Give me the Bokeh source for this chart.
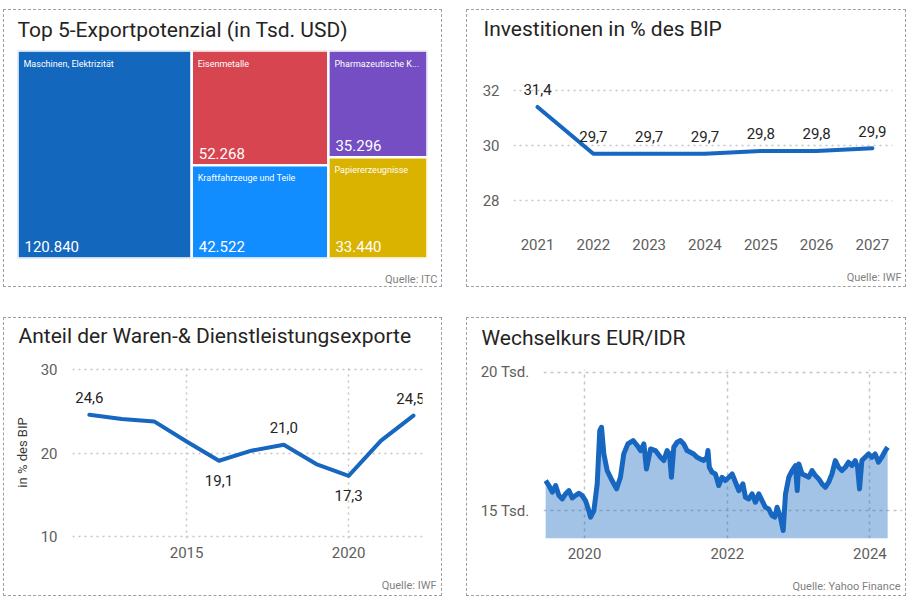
from datetime import datetime

from bokeh.plotting import figure
from bokeh.models import (Range1d, FixedTicker, ColumnDataSource, DatetimeTickFormatter, Title)
from bokeh.embed import file_html
from bokeh.resources import INLINE
from bokeh.core.properties import value

# ---------------- data ----------------
# Panel 1: treemap
tm_categories = ["Maschinen, Elektrizität", "Eisenmetalle", "Kraftfahrzeuge und Teile",
                 "Pharmazeutische K...", "Papiererzeugnisse"]
tm_values = [120840, 52268, 42522, 35296, 33440]
tm_colors = ["#1367BD", "#D64550", "#118DFF", "#744EC2", "#D9B300"]
tm_groups = [[0], [1, 2], [3, 4]]

# Panel 2: investments
inv_years = [2021, 2022, 2023, 2024, 2025, 2026, 2027]
inv_values = [31.4, 29.7, 29.7, 29.7, 29.8, 29.8, 29.9]
inv_yticks = [28, 30, 32]

# Panel 3: exports share
exp_years = [2012, 2013, 2014, 2015, 2016, 2017, 2018, 2019, 2020, 2021, 2022]
exp_values = [24.6, 24.1, 23.8, 21.4, 19.1, 20.3, 21.0, 18.7, 17.3, 21.5, 24.5]
exp_labels_above = [0, 6]
exp_labels_above_end = [10]
exp_labels_below = [4, 8]
exp_xticks = [2015, 2020]
exp_yticks = [10, 20, 30]

# Panel 4: EUR/IDR
fx_dates = [
    "2019-06-16", "2019-07-03", "2019-07-20", "2019-08-06", "2019-08-23", "2019-09-09",
    "2019-09-26", "2019-10-13", "2019-10-30", "2019-11-16", "2019-12-03", "2019-12-20",
    "2020-01-06", "2020-01-23", "2020-02-01", "2020-02-18", "2020-03-06", "2020-03-19",
    "2020-03-28", "2020-04-09", "2020-04-26", "2020-05-21", "2020-06-13", "2020-07-03",
    "2020-07-20", "2020-08-10", "2020-09-06", "2020-09-27", "2020-10-14", "2020-10-31",
    "2020-11-13", "2020-12-04", "2020-12-29", "2021-01-24", "2021-02-10", "2021-02-27",
    "2021-03-11", "2021-03-21", "2021-04-02", "2021-04-19", "2021-05-06", "2021-05-23",
    "2021-06-09", "2021-06-26", "2021-07-13", "2021-07-30", "2021-08-16", "2021-09-02",
    "2021-09-19", "2021-09-24", "2021-10-01", "2021-10-15", "2021-11-01", "2021-11-18",
    "2021-12-05", "2021-12-22", "2022-01-09", "2022-01-26", "2022-02-12", "2022-03-01",
    "2022-03-22", "2022-04-04", "2022-04-21", "2022-05-08", "2022-05-25", "2022-06-11",
    "2022-06-28", "2022-07-15", "2022-08-01", "2022-08-18", "2022-09-01", "2022-09-13",
    "2022-09-30", "2022-10-14", "2022-10-26", "2022-11-12", "2022-11-29", "2022-12-16",
    "2022-12-25", "2023-01-02", "2023-01-19", "2023-02-05", "2023-02-22", "2023-03-11",
    "2023-03-28", "2023-04-14", "2023-05-01", "2023-05-18", "2023-06-04", "2023-06-21",
    "2023-07-08", "2023-07-25", "2023-08-11", "2023-08-28", "2023-09-14", "2023-10-01",
    "2023-10-18", "2023-10-30", "2023-11-09", "2023-11-21", "2023-12-08", "2023-12-25",
    "2024-01-11", "2024-01-28", "2024-02-14", "2024-03-02", "2024-03-20", "2024-04-01",
]
fx_values = [
    16085, 15904, 15663, 15904, 15542, 15422,
    15602, 15723, 15458, 15542, 15627, 15542,
    15361, 15000, 14759, 15000, 15964, 17892,
    18012, 17048, 16446, 16085, 15783, 16205,
    17048, 17410, 17530, 17350, 17169, 17410,
    16506, 17229, 17169, 16928, 16807, 17169,
    17048, 16205, 17289, 17470, 17530, 17410,
    17169, 17109, 17048, 16928, 16868, 16807,
    16928, 17169, 16566, 16386, 16325, 15904,
    16205, 16085, 16205, 16325, 16024, 15723,
    15964, 15482, 15422, 15602, 15301, 15602,
    15361, 15120, 15060, 14819, 14759, 15120,
    14759, 14277, 15602, 16205, 16446, 16627,
    15723, 16687, 16325, 16265, 16205, 16446,
    16265, 16145, 15964, 15843, 16024, 16325,
    16807, 16566, 16446, 16566, 16747, 16627,
    16807, 16566, 15783, 16807, 16928, 17048,
    16928, 17048, 16747, 16928, 17169, 17289,
]
fx_year_ticks = [2020, 2022, 2024]
fx_yticks = [15000, 20000]
fx_ytick_labels = ["15 Tsd.", "20 Tsd."]

# ---------------- style ----------------
FONT = "Roboto"
TITLE_COLOR = "#252423"
TICK_COLOR = "#605E5C"
LABEL_COLOR = "#252423"
LINE_BLUE = "#1767C0"
GRID_COLOR = "#C4C4C4"
SRC_COLOR = "#7F7F7F"


def make_fig(w, h, left, right, top, bottom, pos, **kw):
    p = figure(width=w, height=h, output_backend="svg", toolbar_location=None,
               min_border_left=left, min_border_right=right,
               min_border_top=top, min_border_bottom=bottom, **kw)
    p.outline_line_color = None
    p.background_fill_color = "white"
    p.border_fill_color = "white"
    p.styles = {"position": "absolute", "left": f"{pos[0]}px", "top": f"{pos[1]}px",
                "border": "1px dashed #A0A0A0"}
    return p


def set_title(p, text, offset, gap):
    # spacer between frame and title (nearest the frame)
    p.add_layout(Title(text=" ", text_font_size="1px", standoff=gap), "above")
    p.title.text = text
    p.title.text_font = FONT
    p.title.text_font_size = "21px"
    p.title.text_font_style = "normal"
    p.title.text_color = TITLE_COLOR
    p.title.align = "left"
    p.title.offset = offset
    p.title.standoff = 0


def add_source(p, text, offset, gap):
    p.add_layout(Title(text=" ", text_font_size="1px", standoff=gap), "below")
    p.add_layout(Title(text=text, align="right", offset=offset, standoff=0,
                       text_font=FONT, text_font_size="11px", text_font_style="normal",
                       text_color=SRC_COLOR), "below")


def style_axes(p):
    for ax in p.axis:
        ax.axis_line_color = None
        ax.major_tick_line_color = None
        ax.minor_tick_line_color = None
        ax.major_tick_out = 0
        ax.major_tick_in = 0
        ax.major_label_text_font = FONT
        ax.major_label_text_font_size = "15px"
        ax.major_label_text_color = TICK_COLOR


def fmt_dec(v):
    return f"{v:.1f}".replace(".", ",")


def label_src(idx, xs, ys):
    return ColumnDataSource(dict(x=[xs[i] for i in idx], y=[ys[i] for i in idx],
                                 t=[fmt_dec(ys[i]) for i in idx]))


def add_labels(p, src, dy, dx=0):
    p.text("x", "y", text="t", source=src, x_offset=dx, y_offset=dy, text_align="center",
           text_baseline="middle", text_font=value(FONT), text_font_size="15px",
           text_color=LABEL_COLOR)


# ---------------- panel 1: treemap ----------------
total = sum(tm_values)
q = dict(left=[], right=[], bottom=[], top=[], color=[], name=[], val=[])
x0 = 0.0
for grp in tm_groups:
    gsum = sum(tm_values[i] for i in grp)
    x1 = x0 + gsum
    ytop = 1.0
    for i in grp:
        hgt = tm_values[i] / gsum
        q["left"].append(x0)
        q["right"].append(x1)
        q["top"].append(ytop)
        q["bottom"].append(ytop - hgt)
        q["color"].append(tm_colors[i])
        q["name"].append(tm_categories[i])
        q["val"].append(f"{tm_values[i]:,}".replace(",", "."))
        ytop -= hgt
    x0 = x1
tm_src = ColumnDataSource(q)

p1 = make_fig(439, 278, 13, 16, 40, 30, (3, 9),
              x_range=Range1d(0, total), y_range=Range1d(0, 1),
              x_axis_location=None, y_axis_location=None)
p1.grid.visible = False
p1.quad(left="left", right="right", bottom="bottom", top="top", source=tm_src,
        fill_color="color", line_color="white", line_width=2.5)
p1.text(x="left", y="top", text="name", source=tm_src, x_offset=6, y_offset=13,
        text_font=value(FONT), text_font_size="9px", text_color="white",
        text_baseline="middle", text_align="left")
p1.text(x="left", y="bottom", text="val", source=tm_src, x_offset=7, y_offset=-12,
        text_font=value(FONT), text_font_size="15px", text_color="white",
        text_baseline="middle", text_align="left")
set_title(p1, "Top 5-Exportpotenzial (in Tsd. USD)", 0, 6)
add_source(p1, "Quelle: ITC", -10, 9)

# ---------------- panel 2: investments ----------------
p2 = make_fig(440, 278, 46, 15, 50, 60, (466, 9),
              x_range=Range1d(2020.57, 2027.36), y_range=Range1d(26.98, 33.09))
style_axes(p2)
p2.xaxis.ticker = FixedTicker(ticks=inv_years)
p2.yaxis.ticker = FixedTicker(ticks=inv_yticks)
p2.xaxis.major_label_standoff = 10
p2.yaxis.major_label_standoff = 14
p2.xgrid.grid_line_color = None
p2.ygrid.grid_line_color = GRID_COLOR
p2.ygrid.grid_line_dash = "2 4"
p2.ygrid.grid_line_width = 1.5
inv_src = ColumnDataSource(dict(x=inv_years, y=inv_values, t=[fmt_dec(v) for v in inv_values]))
p2.line("x", "y", source=inv_src, line_color=LINE_BLUE, line_width=4, line_join="round", line_cap="round")
add_labels(p2, inv_src, -17)
set_title(p2, "Investitionen in % des BIP", -30, 17)
add_source(p2, "Quelle: IWF", -9, 13)

# ---------------- panel 3: exports share ----------------
p3 = make_fig(439, 279, 68, 21, 48, 59, (3, 317),
              x_range=Range1d(2011.48, 2022.28), y_range=Range1d(9.81, 30.36))
style_axes(p3)
p3.xaxis.ticker = FixedTicker(ticks=exp_xticks)
p3.yaxis.ticker = FixedTicker(ticks=exp_yticks)
p3.xaxis.major_label_standoff = 8
p3.yaxis.major_label_standoff = 15
p3.yaxis.axis_label = "in % des BIP"
p3.yaxis.axis_label_text_font = FONT
p3.yaxis.axis_label_text_font_size = "13px"
p3.yaxis.axis_label_text_font_style = "normal"
p3.yaxis.axis_label_text_color = "#3A3A3A"
p3.yaxis.axis_label_standoff = 8
for g in (p3.xgrid, p3.ygrid):
    g.grid_line_color = GRID_COLOR
    g.grid_line_dash = "2 4"
    g.grid_line_width = 1.5
exp_src = ColumnDataSource(dict(x=exp_years, y=exp_values))
p3.line("x", "y", source=exp_src, line_color=LINE_BLUE, line_width=4, line_join="round", line_cap="round")
add_labels(p3, label_src(exp_labels_above, exp_years, exp_values), -17)
add_labels(p3, label_src(exp_labels_above_end, exp_years, exp_values), -17, -3)
add_labels(p3, label_src(exp_labels_below, exp_years, exp_values), 20)
set_title(p3, "Anteil der Waren-& Dienstleistungsexporte", -54, 16)
add_source(p3, "Quelle: IWF", -14, 13)

# ---------------- panel 4: EUR/IDR ----------------
fx_x = [datetime.fromisoformat(d) for d in fx_dates]
fx_base = 13990
p4 = make_fig(440, 279, 76, 5, 51, 59, (466, 317),
              x_axis_type="datetime",
              x_range=Range1d(datetime(2019, 6, 5), datetime(2024, 6, 16)),
              y_range=Range1d(fx_base, 20100))
style_axes(p4)
tick_ms = [datetime(y, 1, 1).timestamp() * 1000 for y in fx_year_ticks]
p4.xaxis.ticker = FixedTicker(ticks=tick_ms)
p4.xaxis.formatter = DatetimeTickFormatter(years="%Y", months="%Y", days="%Y", hours="%Y",
                                           minutes="%Y", seconds="%Y", milliseconds="%Y",
                                           microseconds="%Y", hourmin="%Y", minsec="%Y")
p4.yaxis.ticker = FixedTicker(ticks=fx_yticks)
p4.yaxis.major_label_overrides = {t: lab for t, lab in zip(fx_yticks, fx_ytick_labels)}
p4.xaxis.major_label_standoff = 9
p4.yaxis.major_label_standoff = 14
for g in (p4.xgrid, p4.ygrid):
    g.grid_line_color = GRID_COLOR
    g.grid_line_dash = "3 4"
    g.grid_line_width = 1.5
fx_src = ColumnDataSource(dict(x=fx_x, y=fx_values, base=[fx_base] * len(fx_values)))
p4.varea(x="x", y1="base", y2="y", source=fx_src, fill_color=LINE_BLUE, fill_alpha=0.4)
p4.line("x", "y", source=fx_src, line_color=LINE_BLUE, line_width=5, line_join="round")
set_title(p4, "Wechselkurs EUR/IDR", -62, 17)
add_source(p4, "Quelle: Yahoo Finance", 2, 13)

with open("out.html", "w") as f:
    f.write(file_html([p1, p2, p3, p4], INLINE))
